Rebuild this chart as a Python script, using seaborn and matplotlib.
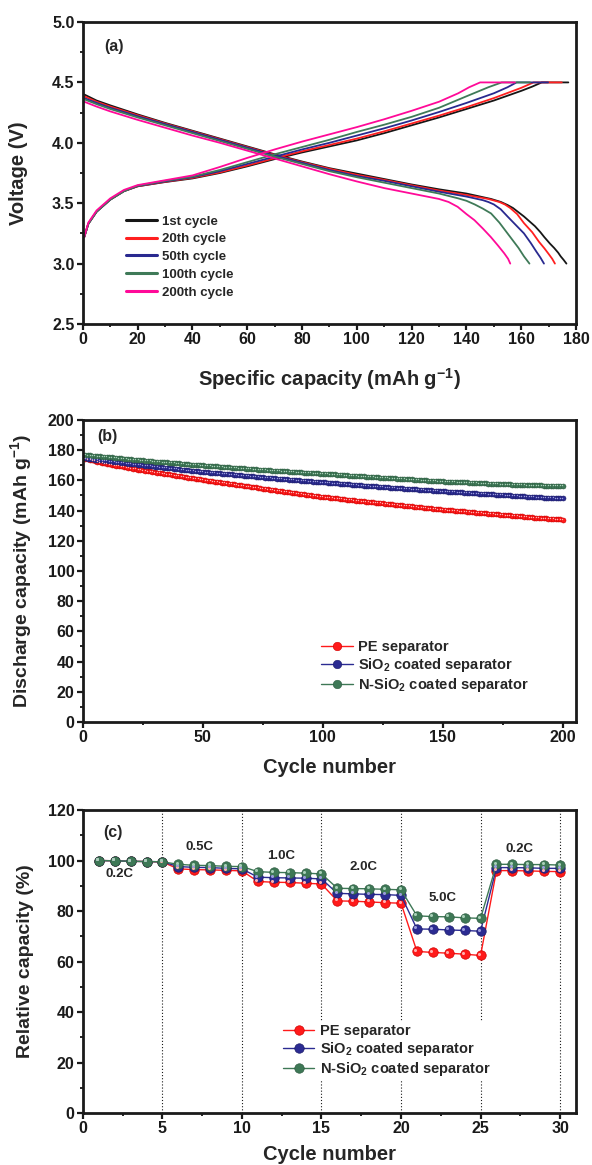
import numpy as np
import pandas as pd
import matplotlib
matplotlib.use('Agg')
import matplotlib.pyplot as plt
import matplotlib.transforms as mtransforms
from matplotlib.ticker import MultipleLocator
import seaborn as sns

# ---------------- (a) charge / discharge profiles ----------------
cycle_names = ['1st cycle', '20th cycle', '50th cycle', '100th cycle', '200th cycle']

chg_x_1 = [0.5, 2, 5, 10, 15, 20, 30, 40, 50, 60, 70, 80, 90, 100, 110, 120, 130, 140, 150, 160, 164, 167.5, 177.2]
chg_v_1 = [3.22, 3.33, 3.43, 3.53, 3.60, 3.64, 3.675, 3.705, 3.75, 3.805, 3.865, 3.92, 3.97, 4.02, 4.08, 4.145, 4.21, 4.28, 4.35, 4.43, 4.465, 4.5, 4.5]
chg_x_20 = [0.5, 2, 5, 10, 15, 20, 30, 40, 50, 60, 70, 80, 90, 100, 110, 120, 130, 140, 150, 160, 164.5, 174.8]
chg_v_20 = [3.22, 3.33, 3.43, 3.53, 3.60, 3.64, 3.677, 3.71, 3.755, 3.812, 3.872, 3.93, 3.982, 4.035, 4.095, 4.16, 4.225, 4.295, 4.37, 4.455, 4.5, 4.5]
chg_x_50 = [0.5, 2, 5, 10, 15, 20, 30, 40, 50, 60, 70, 80, 90, 100, 110, 120, 130, 140, 150, 155, 158.3, 169.8]
chg_v_50 = [3.22, 3.33, 3.43, 3.53, 3.60, 3.642, 3.68, 3.715, 3.765, 3.825, 3.885, 3.945, 4.0, 4.06, 4.12, 4.185, 4.255, 4.33, 4.41, 4.46, 4.5, 4.5]
chg_x_100 = [0.5, 2, 5, 10, 15, 20, 30, 40, 50, 60, 70, 80, 90, 100, 110, 120, 130, 140, 148, 152.9, 163.2]
chg_v_100 = [3.22, 3.33, 3.43, 3.53, 3.60, 3.645, 3.685, 3.72, 3.775, 3.84, 3.905, 3.965, 4.025, 4.09, 4.15, 4.215, 4.29, 4.385, 4.46, 4.5, 4.5]
chg_x_200 = [0.5, 2, 5, 10, 15, 20, 30, 40, 50, 60, 70, 80, 90, 100, 110, 120, 130, 137, 141, 145, 157.7]
chg_v_200 = [3.22, 3.34, 3.44, 3.54, 3.61, 3.65, 3.69, 3.73, 3.80, 3.875, 3.945, 4.01, 4.07, 4.13, 4.195, 4.265, 4.34, 4.41, 4.46, 4.5, 4.5]

dis_x_1 = [0.5, 5, 10, 20, 30, 40, 50, 60, 70, 80, 90, 100, 110, 120, 130, 140, 145, 149, 152.6, 155, 157, 159,
           161, 163, 165, 167, 168.4, 170.5, 172, 173.5, 174.4, 175.5, 176.5]
dis_v_1 = [4.40, 4.35, 4.31, 4.235, 4.165, 4.10, 4.035, 3.97, 3.905, 3.845, 3.79, 3.745, 3.70, 3.655, 3.615, 3.58, 3.555, 3.535, 3.51, 3.485, 3.46, 3.425,
           3.39, 3.35, 3.31, 3.26, 3.22, 3.165, 3.13, 3.09, 3.06, 3.03, 3.0]
dis_x_20 = [0.5, 5, 10, 20, 30, 40, 50, 60, 70, 80, 90, 100, 110, 120, 130, 140, 148, 152, 154, 156, 158.5, 161,
            164, 166.5, 168.5, 170, 171.3, 172.3]
dis_v_20 = [4.385, 4.34, 4.30, 4.228, 4.16, 4.095, 4.03, 3.965, 3.90, 3.84, 3.785, 3.735, 3.693, 3.648, 3.605, 3.568, 3.535, 3.51, 3.49, 3.46, 3.41, 3.335,
            3.26, 3.18, 3.125, 3.08, 3.04, 3.0]
dis_x_50 = [0.5, 5, 10, 20, 30, 40, 50, 60, 70, 80, 90, 100, 110, 120, 130, 140, 146, 148, 150, 152.5, 155, 158,
            161, 163.5, 165.5, 167, 168.3]
dis_v_50 = [4.37, 4.33, 4.29, 4.22, 4.155, 4.09, 4.025, 3.96, 3.895, 3.835, 3.775, 3.725, 3.685, 3.64, 3.595, 3.555, 3.525, 3.51, 3.49, 3.45, 3.39, 3.32,
            3.25, 3.17, 3.1, 3.05, 3.0]
dis_x_100 = [0.5, 5, 10, 20, 30, 40, 50, 60, 70, 80, 90, 100, 110, 120, 130, 137, 140, 143, 146, 149, 152, 155,
             157, 159, 161, 163]
dis_v_100 = [4.36, 4.32, 4.28, 4.21, 4.145, 4.08, 4.015, 3.95, 3.885, 3.825, 3.765, 3.715, 3.67, 3.625, 3.58, 3.54, 3.52, 3.49, 3.455, 3.415, 3.34, 3.25,
             3.19, 3.13, 3.06, 3.0]
dis_x_200 = [0.5, 5, 10, 20, 30, 40, 50, 60, 70, 80, 90, 100, 110, 120, 130, 133.5, 136.8, 140, 142.9, 146, 148.9,
             151.5, 153.8, 155.2, 156]
dis_v_200 = [4.34, 4.30, 4.26, 4.19, 4.125, 4.06, 4.0, 3.935, 3.87, 3.805, 3.74, 3.68, 3.625, 3.58, 3.535, 3.51, 3.47, 3.41, 3.36, 3.29, 3.22,
             3.15, 3.085, 3.04, 3.0]

# ---------------- (b) cycling performance ----------------
series_names = ['PE separator', r'SiO$_2$ coated separator', r'N-SiO$_2$ coated separator']
cycles_b = list(range(1, 201))
pe_b = [174.3, 173.9, 173.5, 173.2, 172.8, 172.4, 172.1, 171.7, 171.3, 171.0,
        170.7, 170.4, 170.1, 169.8, 169.5, 169.3, 169.0, 168.7, 168.4, 168.1,
        167.8, 167.5, 167.2, 166.9, 166.6, 166.4, 166.1, 165.9, 165.6, 165.4,
        165.1, 164.9, 164.6, 164.4, 164.1, 163.9, 163.6, 163.4, 163.1, 162.9,
        162.6, 162.4, 162.1, 161.9, 161.6, 161.4, 161.1, 160.9, 160.6, 160.4,
        160.2, 159.9, 159.7, 159.5, 159.2, 159.0, 158.8, 158.5, 158.3, 158.1,
        157.8, 157.6, 157.4, 157.1, 156.9, 156.7, 156.4, 156.2, 156.0, 155.7,
        155.5, 155.3, 155.0, 154.8, 154.5, 154.3, 154.1, 153.9, 153.7, 153.4,
        153.2, 153.0, 152.8, 152.6, 152.3, 152.1, 151.9, 151.7, 151.5, 151.2,
        151.0, 150.8, 150.6, 150.4, 150.1, 149.9, 149.7, 149.5, 149.3, 149.0,
        148.8, 148.7, 148.5, 148.3, 148.2, 148.0, 147.8, 147.7, 147.5, 147.3,
        147.2, 147.0, 146.8, 146.6, 146.5, 146.3, 146.1, 146.0, 145.8, 145.6,
        145.5, 145.3, 145.1, 145.0, 144.8, 144.6, 144.5, 144.3, 144.1, 144.0,
        143.8, 143.6, 143.5, 143.3, 143.1, 143.0, 142.8, 142.6, 142.5, 142.3,
        142.1, 142.0, 141.8, 141.6, 141.4, 141.3, 141.1, 140.9, 140.8, 140.6,
        140.5, 140.3, 140.2, 140.1, 139.9, 139.8, 139.6, 139.5, 139.4, 139.2,
        139.1, 138.9, 138.8, 138.6, 138.5, 138.4, 138.2, 138.1, 137.9, 137.8,
        137.7, 137.5, 137.4, 137.3, 137.2, 137.0, 136.9, 136.8, 136.6, 136.5,
        136.4, 136.2, 136.1, 136.0, 135.8, 135.7, 135.6, 135.4, 135.3, 135.2,
        135.0, 134.9, 134.8, 134.7, 134.5, 134.4, 134.3, 134.2, 134.1, 134.0]
sio2_b = [174.6, 174.4, 174.2, 174.0, 173.8, 173.6, 173.4, 173.3, 173.1, 172.9,
          172.7, 172.5, 172.3, 172.1, 171.9, 171.7, 171.5, 171.3, 171.1, 170.9,
          170.8, 170.6, 170.4, 170.2, 170.0, 169.8, 169.6, 169.5, 169.3, 169.1,
          168.9, 168.8, 168.6, 168.4, 168.2, 168.0, 167.9, 167.7, 167.5, 167.3,
          167.2, 167.0, 166.8, 166.6, 166.5, 166.3, 166.1, 165.9, 165.8, 165.6,
          165.5, 165.3, 165.2, 165.0, 164.9, 164.7, 164.6, 164.4, 164.3, 164.2,
          164.0, 163.9, 163.7, 163.6, 163.4, 163.3, 163.1, 163.0, 162.9, 162.7,
          162.6, 162.4, 162.3, 162.1, 162.0, 161.9, 161.7, 161.6, 161.5, 161.3,
          161.2, 161.1, 160.9, 160.8, 160.7, 160.5, 160.4, 160.3, 160.1, 160.0,
          159.9, 159.7, 159.6, 159.5, 159.3, 159.2, 159.1, 159.0, 158.8, 158.7,
          158.6, 158.5, 158.3, 158.2, 158.1, 158.0, 157.8, 157.7, 157.6, 157.5,
          157.3, 157.2, 157.1, 157.0, 156.8, 156.7, 156.6, 156.5, 156.3, 156.2,
          156.1, 156.0, 155.8, 155.7, 155.6, 155.5, 155.4, 155.2, 155.1, 155.0,
          154.9, 154.8, 154.7, 154.5, 154.4, 154.3, 154.2, 154.1, 154.0, 153.9,
          153.7, 153.6, 153.5, 153.4, 153.3, 153.2, 153.1, 153.0, 152.9, 152.8,
          152.7, 152.6, 152.5, 152.4, 152.3, 152.2, 152.1, 152.0, 151.9, 151.8,
          151.7, 151.6, 151.5, 151.4, 151.3, 151.2, 151.1, 151.0, 150.9, 150.8,
          150.7, 150.6, 150.5, 150.4, 150.3, 150.2, 150.1, 150.0, 149.9, 149.8,
          149.7, 149.6, 149.5, 149.4, 149.3, 149.2, 149.1, 149.0, 148.9, 148.8,
          148.7, 148.6, 148.5, 148.4, 148.4, 148.3, 148.2, 148.1, 148.0, 148.0]
nsio2_b = [176.9, 176.7, 176.6, 176.4, 176.3, 176.1, 176.0, 175.8, 175.7, 175.5,
           175.4, 175.2, 175.0, 174.9, 174.7, 174.6, 174.4, 174.3, 174.1, 174.0,
           173.8, 173.7, 173.5, 173.4, 173.2, 173.1, 172.9, 172.8, 172.7, 172.5,
           172.4, 172.3, 172.1, 172.0, 171.9, 171.7, 171.6, 171.5, 171.3, 171.2,
           171.1, 170.9, 170.8, 170.7, 170.5, 170.4, 170.3, 170.2, 170.0, 169.9,
           169.8, 169.7, 169.5, 169.4, 169.3, 169.2, 169.1, 168.9, 168.8, 168.7,
           168.6, 168.5, 168.3, 168.2, 168.1, 168.0, 167.9, 167.7, 167.6, 167.5,
           167.4, 167.3, 167.2, 167.1, 167.0, 166.9, 166.8, 166.7, 166.5, 166.4,
           166.3, 166.2, 166.1, 166.0, 165.9, 165.8, 165.7, 165.6, 165.5, 165.4,
           165.3, 165.2, 165.1, 165.0, 164.9, 164.8, 164.7, 164.6, 164.5, 164.4,
           164.3, 164.2, 164.1, 164.0, 163.9, 163.8, 163.7, 163.6, 163.5, 163.4,
           163.2, 163.1, 163.0, 162.9, 162.8, 162.7, 162.6, 162.5, 162.4, 162.3,
           162.2, 162.1, 162.0, 161.9, 161.8, 161.7, 161.6, 161.5, 161.4, 161.3,
           161.2, 161.1, 161.0, 160.9, 160.8, 160.7, 160.6, 160.5, 160.4, 160.3,
           160.2, 160.1, 160.0, 159.9, 159.8, 159.7, 159.6, 159.5, 159.4, 159.3,
           159.2, 159.2, 159.1, 159.0, 158.9, 158.8, 158.8, 158.7, 158.6, 158.6,
           158.5, 158.4, 158.3, 158.3, 158.2, 158.1, 158.0, 158.0, 157.9, 157.8,
           157.8, 157.7, 157.6, 157.5, 157.5, 157.4, 157.4, 157.3, 157.2, 157.2,
           157.1, 157.1, 157.0, 157.0, 156.9, 156.9, 156.8, 156.8, 156.7, 156.7,
           156.7, 156.6, 156.6, 156.6, 156.5, 156.5, 156.5, 156.4, 156.4, 156.4]

# ---------------- (c) rate capability ----------------
cycles_c = list(range(1, 31))
pe_c = [100.0, 99.9, 99.7, 99.6, 99.4, 96.7, 96.4, 96.3, 96.1, 95.9,
        91.7, 91.4, 91.3, 91.0, 90.7, 84.0, 83.9, 83.6, 83.3, 83.1,
        64.0, 63.6, 63.3, 62.9, 62.4, 96.0, 96.0, 95.9, 95.7, 95.6]
sio2_c = [100.0, 99.9, 99.7, 99.6, 99.5, 97.6, 97.3, 97.2, 96.9, 96.7,
          93.4, 93.2, 93.1, 93.0, 92.7, 87.0, 86.8, 86.6, 86.5, 86.2,
          72.9, 72.8, 72.5, 72.3, 72.0, 97.2, 97.2, 97.1, 96.9, 96.9]
nsio2_c = [100.0, 99.9, 99.7, 99.6, 99.5, 98.5, 98.1, 98.0, 97.7, 97.6,
           95.6, 95.3, 95.2, 95.0, 94.7, 89.0, 88.9, 88.8, 88.6, 88.4,
           78.1, 77.8, 77.7, 77.3, 77.1, 98.5, 98.5, 98.4, 98.4, 98.2]
rate_labels = ['0.2C', '0.5C', '1.0C', '2.0C', '5.0C', '0.2C']
rate_label_x = [2.32, 7.35, 12.45, 17.67, 22.58, 27.46]
rate_label_y = [94.6, 105.2, 101.8, 97.3, 85.3, 104.6]
rate_bounds = [5, 10, 15, 20, 25, 30]

# ---------------- style ----------------
sns.set_style('ticks')
plt.rcParams['font.family'] = ['Liberation Sans', 'DejaVu Sans']
plt.rcParams['font.weight'] = 'bold'
plt.rcParams['axes.labelweight'] = 'bold'
plt.rcParams['mathtext.fontset'] = 'custom'
plt.rcParams['mathtext.rm'] = 'Liberation Sans:bold'
plt.rcParams['mathtext.bf'] = 'Liberation Sans:bold'
plt.rcParams['mathtext.default'] = 'bf'

cyc_colors = ['#161616', '#ff1f1f', '#29298f', '#3f7a58', '#ff0a98']
sep_colors = ['#ff1a1a', '#2b2b92', '#3e7856']
sep_edges = ['#d00000', '#1c1c6a', '#2e5c41']
sep_lights = ['#ffb0b0', '#9c9cdc', '#a9d0b8']


def style_ax(ax):
    for s in ax.spines.values():
        s.set_linewidth(2.0)
        s.set_color('#1a1a1a')
    ax.tick_params(which='major', direction='out', length=4, width=1.6,
                   labelsize=11.5, top=False, right=False, colors='#1a1a1a', pad=2)
    ax.tick_params(which='minor', direction='out', length=2.5, width=1.4,
                   top=False, right=False)


fig = plt.figure(figsize=(5.92, 11.65), dpi=100)
ax1 = fig.add_axes([0.140, 0.7219, 0.833, 0.2592])
ax2 = fig.add_axes([0.140, 0.3803, 0.833, 0.2592])
ax3 = fig.add_axes([0.140, 0.0446, 0.833, 0.2601])

# ---- (a)
chg = [(chg_x_1, chg_v_1), (chg_x_20, chg_v_20), (chg_x_50, chg_v_50),
       (chg_x_100, chg_v_100), (chg_x_200, chg_v_200)]
dis = [(dis_x_1, dis_v_1), (dis_x_20, dis_v_20), (dis_x_50, dis_v_50),
       (dis_x_100, dis_v_100), (dis_x_200, dis_v_200)]
for i, name in enumerate(cycle_names):
    sns.lineplot(x=chg[i][0], y=chg[i][1], ax=ax1, color=cyc_colors[i], lw=1.3,
                 sort=False, estimator=None, label=name)
    sns.lineplot(x=dis[i][0], y=dis[i][1], ax=ax1, color=cyc_colors[i], lw=1.3,
                 sort=False, estimator=None)
ax1.set_xlim(0, 180)
ax1.set_ylim(2.5, 5.0)
ax1.xaxis.set_major_locator(MultipleLocator(20))
ax1.xaxis.set_minor_locator(MultipleLocator(10))
ax1.yaxis.set_major_locator(MultipleLocator(0.5))
ax1.yaxis.set_minor_locator(MultipleLocator(0.25))
ax1.yaxis.set_major_formatter(matplotlib.ticker.FormatStrFormatter('%.1f'))
style_ax(ax1)
ax1.set_xlabel('Specific capacity (mAh g$^{-1}$)', fontsize=14.5)
ax1.set_ylabel('Voltage (V)', fontsize=14.5)
ax1.xaxis.set_label_coords(0.5, -0.14)
ax1.yaxis.set_label_coords(-0.112, 0.5)
ax1.text(0.064, 0.918, '(a)', transform=ax1.transAxes, fontsize=11.5, ha='center', va='center')
leg1 = ax1.legend(loc='upper left', bbox_to_anchor=(0.088, 0.36), frameon=False,
                  fontsize=9.5, handlelength=2.3, handletextpad=0.38, labelspacing=0.42,
                  borderpad=0, borderaxespad=0)
for h in leg1.legend_handles:
    h.set_linewidth(2.2)

# ---- (b)
for vals, name, c, ec in zip([pe_b, sio2_b, nsio2_b], series_names, sep_colors, sep_edges):
    sns.lineplot(x=cycles_b, y=vals, ax=ax2, color=c, lw=1.0, marker='o', markersize=3.6,
                 markeredgecolor=ec, markeredgewidth=0.4, label=name, estimator=None)
hl = mtransforms.offset_copy(ax2.transData, fig=fig, x=-0.4, y=0.4, units='points')
for vals, lc in zip([pe_b, sio2_b, nsio2_b], sep_lights):
    ax2.plot(cycles_b, vals, ls='none', marker='o', markersize=1.0, color=lc,
             markeredgewidth=0, transform=hl, zorder=3)
ax2.set_xlim(0, 205.5)
ax2.set_ylim(0, 200)
ax2.xaxis.set_major_locator(MultipleLocator(50))
ax2.xaxis.set_minor_locator(MultipleLocator(25))
ax2.yaxis.set_major_locator(MultipleLocator(20))
ax2.yaxis.set_minor_locator(MultipleLocator(10))
style_ax(ax2)
ax2.set_xlabel('Cycle number', fontsize=14.5)
ax2.set_ylabel('Discharge capacity (mAh g$^{-1}$)', fontsize=14)
ax2.xaxis.set_label_coords(0.5, -0.12)
ax2.yaxis.set_label_coords(-0.1, 0.5)
ax2.text(0.050, 0.945, '(b)', transform=ax2.transAxes, fontsize=11.5, ha='center', va='center')
ax2.legend(loc='upper left', bbox_to_anchor=(0.482, 0.27), frameon=False,
           fontsize=10.5, handlelength=2.2, handletextpad=0.34, labelspacing=0.12,
           borderpad=0, borderaxespad=0, markerscale=1.7)

# ---- (c)
for xb in rate_bounds:
    ax3.axvline(xb, color='#1a1a1a', lw=0.8, ls=(0, (1, 1.8)), zorder=1)
for vals, name, c, ec in zip([pe_c, sio2_c, nsio2_c], series_names, sep_colors, sep_edges):
    sns.lineplot(x=cycles_c, y=vals, ax=ax3, color=c, lw=1.0, marker='o', markersize=6.8,
                 markeredgecolor=ec, markeredgewidth=0.5, label=name, estimator=None, zorder=3)
hl3 = mtransforms.offset_copy(ax3.transData, fig=fig, x=-1.1, y=1.1, units='points')
for vals, lc in zip([pe_c, sio2_c, nsio2_c], sep_lights):
    ax3.plot(cycles_c, vals, ls='none', marker='o', markersize=2.2, color=lc,
             markeredgewidth=0, transform=hl3, zorder=3)
for lab, lx, ly in zip(rate_labels, rate_label_x, rate_label_y):
    ax3.text(lx, ly, lab, fontsize=9.5, ha='center', va='center')
ax3.set_xlim(0, 31.0)
ax3.set_ylim(0, 120)
ax3.xaxis.set_major_locator(MultipleLocator(5))
ax3.xaxis.set_minor_locator(MultipleLocator(2.5))
ax3.yaxis.set_major_locator(MultipleLocator(20))
ax3.yaxis.set_minor_locator(MultipleLocator(10))
style_ax(ax3)
ax3.set_xlabel('Cycle number', fontsize=14.5)
ax3.set_ylabel('Relative capacity (%)', fontsize=14)
ax3.xaxis.set_label_coords(0.5, -0.105)
ax3.yaxis.set_label_coords(-0.1, 0.5)
ax3.text(0.060, 0.925, '(c)', transform=ax3.transAxes, fontsize=11.5, ha='center', va='center')
ax3.legend(loc='upper left', bbox_to_anchor=(0.400, 0.304), frameon=True, facecolor='white',
           edgecolor='none', framealpha=1, fancybox=False, fontsize=10.5, handlelength=2.15,
           handletextpad=0.35, labelspacing=0.15, borderpad=0.2, borderaxespad=0)

fig.savefig('out.png', dpi=100)
